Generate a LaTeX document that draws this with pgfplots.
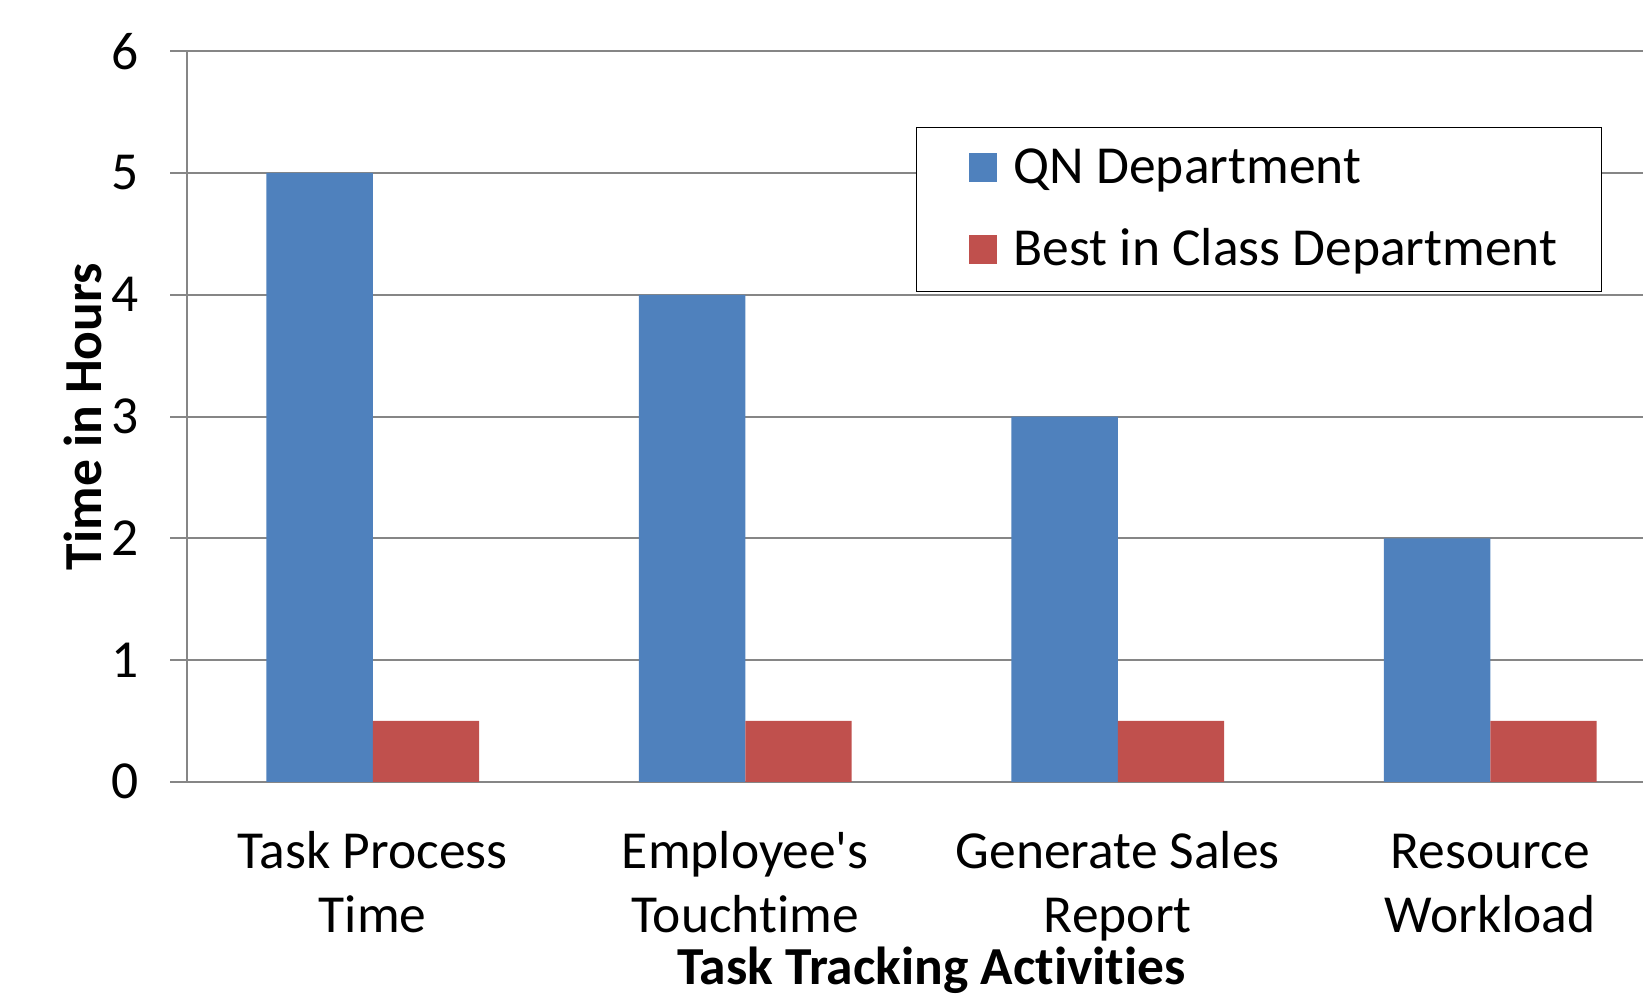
\documentclass[border=0pt]{standalone}
\usepackage{fontspec}
\setmainfont{Carlito}[Ligatures={TeXOff,NoCommon}]
\usepackage{pgfplots}
\pgfplotsset{compat=1.18}
\definecolor{qnblue}{HTML}{4F81BD}
\definecolor{bicred}{HTML}{C0504D}
\definecolor{gridgray}{HTML}{868686}
\newcommand{\chartfont}{\fontsize{21.4}{25.4}\selectfont}
\begin{document}
\begin{tikzpicture}
\useasboundingbox (-74.6pt,-86.5pt) rectangle (582.6pt,312.7pt);
\begin{axis}[
  at={(0pt,0pt)}, anchor=south west,
  scale only axis, width=582.6pt, height=292.2pt,
  ybar=0pt, bar width=42.56pt,
  xmin=-0.5, xmax=3.41, ymin=0, ymax=6,
  axis x line*=bottom, axis y line*=left,
  axis line style={gridgray, line width=0.8pt},
  ymajorgrids, major grid style={gridgray, line width=0.8pt},
  ytick={0,1,2,3,4,5,6},
  xtick={0,1,2,3},
  xticklabels={{Task Process\\Time},{Employee's\\Touchtime},{Generate Sales\\Report},{Resource\\Workload}},
  tick align=outside, major tick length=6.4pt,
  ytick style={gridgray, line width=0.8pt},
  xtick style={draw=none},
  /pgf/number format/assume math mode=true,
  yticklabel style={font=\chartfont, anchor=east, inner sep=0pt, xshift=-12.6pt},
  xticklabel style={font=\chartfont, align=center, anchor=base, inner sep=0pt, yshift=-53.7pt},
  xlabel={Task Tracking Activities},
  ylabel={Time in Hours},
  xlabel style={font=\chartfont\bfseries, at={(axis description cs:0.5115,0)}, anchor=base, yshift=-81.2pt, inner sep=0pt},
  ylabel style={font=\chartfont\bfseries, at={(axis description cs:0,0.5)}, anchor=base, yshift=34pt, inner sep=0pt},
  legend style={at={(axis description cs:0.5007,0.8966)}, anchor=north west,
    draw=black, line width=0.6pt, fill=white, inner xsep=17.6pt, inner ysep=0pt,
    font=\chartfont, column sep=6.6pt, row sep=0pt,
    nodes={inner sep=0pt, text height=22.2pt, text depth=10.6pt}},
  legend cell align=left,
  legend image code/.code={\path (-3.3pt,0pt); \fill[#1] (0pt,-5.2pt) rectangle (11.4pt,6.2pt);},
]
\addplot[fill=qnblue, draw=none] coordinates {(0,5) (1,4) (2,3) (3,2)};
\addplot[fill=bicred, draw=none] coordinates {(0,0.5) (1,0.5) (2,0.5) (3,0.5)};
\legend{QN Department, Best in Class Department}
\end{axis}
\end{tikzpicture}
\end{document}
